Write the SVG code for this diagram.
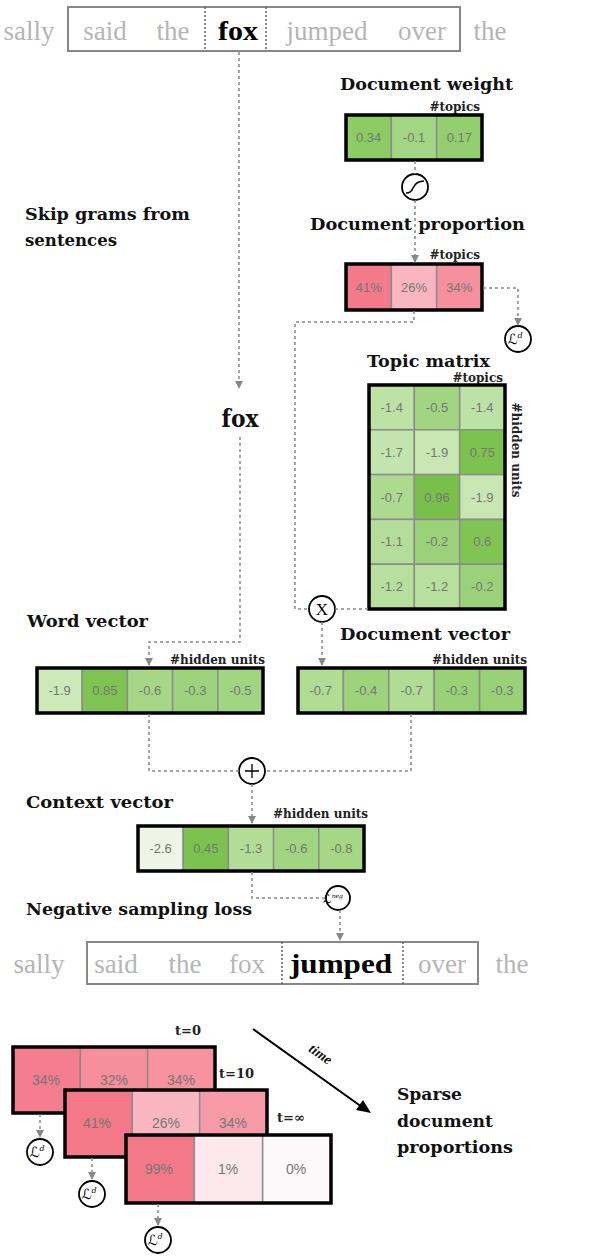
<svg xmlns="http://www.w3.org/2000/svg" width="598" height="1256" viewBox="0 0 598 1256">
<style>
.t{font-family:"DejaVu Serif",serif;font-weight:bold;font-size:17px;fill:#111}
.w{font-family:"Liberation Serif",serif;font-size:27px;fill:#b5b5b5;text-anchor:middle}
.wb{font-weight:bold;fill:#000}
.n{font-family:"Liberation Sans",Arial,sans-serif;font-size:13px;fill:#767676;text-anchor:middle}
.nb{font-size:14px}
.s{font-family:"DejaVu Serif",serif;font-weight:bold;font-size:12px;fill:#222;text-anchor:end}
.tl{font-family:"DejaVu Serif",serif;font-weight:bold;font-size:13px;fill:#222;text-anchor:start}
.box{fill:none;stroke:#000;stroke-width:3.5}
.cell{stroke:#8c8c8c;stroke-width:1.5}
.c{fill:none;stroke:#888;stroke-width:1.5;stroke-dasharray:3 3}
.op{fill:#fff;stroke:#000;stroke-width:1.8}
.L{font-family:"DejaVu Serif","DejaVu Sans",serif;font-style:italic;font-size:14px;fill:#000;text-anchor:middle}
.sup{font-family:"DejaVu Serif",serif;font-style:italic;font-size:8px;fill:#000}
.sent{fill:none;stroke:#888;stroke-width:2}
.hl{stroke:#666;stroke-width:1.5;stroke-dasharray:2 2}
</style>
<defs>
<marker id="ah" markerWidth="8" markerHeight="8" refX="7" refY="4" orient="auto" markerUnits="userSpaceOnUse">
<path d="M0,0 L8,4 L0,8 Z" fill="#888"/>
</marker>
</defs>

<g id="sentence-top">
<rect class="sent" x="68" y="7" width="392" height="44"/>
<line class="hl" x1="205" y1="7" x2="205" y2="51"/>
<line class="hl" x1="266" y1="7" x2="266" y2="51"/>
<text class="w" x="29" y="40">sally</text>
<text class="w" x="105" y="40">said</text>
<text class="w" x="173" y="40">the</text>
<text class="w wb" x="238" y="40" textLength="40" lengthAdjust="spacingAndGlyphs">fox</text>
<text class="w" x="327" y="40">jumped</text>
<text class="w" x="422" y="40">over</text>
<text class="w" x="490" y="40">the</text>
</g>

<g id="label-skipgrams">
<text class="t" x="25" y="220" textLength="165" lengthAdjust="spacingAndGlyphs">Skip grams from</text>
<text class="t" x="25" y="246" textLength="92" lengthAdjust="spacingAndGlyphs">sentences</text>
</g>

<g id="fox-word">
<text class="t" x="240" y="427" style="font-size:25px;text-anchor:middle" textLength="37" lengthAdjust="spacingAndGlyphs">fox</text>
</g>

<g id="doc-weight">
<text class="t" x="340" y="90" textLength="173" lengthAdjust="spacingAndGlyphs">Document weight</text>
<text class="s" x="480" y="111">#topics</text>
<rect class="cell" x="346" y="115" width="45.33" height="45" fill="#8ccc64"/>
<rect class="cell" x="391.33" y="115" width="45.33" height="45" fill="#a3d682"/>
<rect class="cell" x="436.67" y="115" width="45.33" height="45" fill="#93cf6e"/>
<rect class="box" x="346" y="115" width="136" height="45"/>
<text class="n" x="368.7" y="142">0.34</text>
<text class="n" x="414" y="142">-0.1</text>
<text class="n" x="459.3" y="142">0.17</text>
</g>

<g id="sigmoid">
<circle class="op" cx="415" cy="187" r="13"/>
<path d="M406,193 Q411,193 413,188 Q416,181 424,181" fill="none" stroke="#000" stroke-width="1.6"/>
</g>

<g id="doc-proportion">
<text class="t" x="310" y="230" textLength="215" lengthAdjust="spacingAndGlyphs">Document proportion</text>
<text class="s" x="480" y="259">#topics</text>
<rect class="cell" x="346" y="264" width="45.33" height="46" fill="#f37a8b"/>
<rect class="cell" x="391.33" y="264" width="45.33" height="46" fill="#f9b5c0"/>
<rect class="cell" x="436.67" y="264" width="45.33" height="46" fill="#f6909d"/>
<rect class="box" x="346" y="264" width="136" height="46"/>
<text class="n" x="368.7" y="292">41%</text>
<text class="n" x="414" y="292">26%</text>
<text class="n" x="459.3" y="292">34%</text>
</g>

<g id="loss-doc">
<circle class="op" cx="518" cy="339" r="13"/>
<text class="L" x="515" y="344">ℒ<tspan class="sup" dy="-6">d</tspan></text>
</g>

<g id="topic-matrix">
<text class="t" x="367" y="367" textLength="123" lengthAdjust="spacingAndGlyphs">Topic matrix</text>
<text class="s" x="503" y="382">#topics</text>
<text class="s" x="0" y="0" style="text-anchor:middle" transform="translate(512,450) rotate(90)">#hidden units</text>
<rect class="cell" x="369" y="385" width="45.33" height="44.8" fill="#bde2a5"/>
<rect class="cell" x="414.33" y="385" width="45.33" height="44.8" fill="#a2d582"/>
<rect class="cell" x="459.67" y="385" width="45.33" height="44.8" fill="#bde2a5"/>
<rect class="cell" x="369" y="429.8" width="45.33" height="44.8" fill="#c3e4ad"/>
<rect class="cell" x="414.33" y="429.8" width="45.33" height="44.8" fill="#c8e7b3"/>
<rect class="cell" x="459.67" y="429.8" width="45.33" height="44.8" fill="#7cc24f"/>
<rect class="cell" x="369" y="474.6" width="45.33" height="44.8" fill="#acda8f"/>
<rect class="cell" x="414.33" y="474.6" width="45.33" height="44.8" fill="#78c04a"/>
<rect class="cell" x="459.67" y="474.6" width="45.33" height="44.8" fill="#c8e7b3"/>
<rect class="cell" x="369" y="519.4" width="45.33" height="44.8" fill="#b4dd99"/>
<rect class="cell" x="414.33" y="519.4" width="45.33" height="44.8" fill="#9bd279"/>
<rect class="cell" x="459.67" y="519.4" width="45.33" height="44.8" fill="#80c454"/>
<rect class="cell" x="369" y="564.2" width="45.33" height="44.8" fill="#b7df9d"/>
<rect class="cell" x="414.33" y="564.2" width="45.33" height="44.8" fill="#b7df9d"/>
<rect class="cell" x="459.67" y="564.2" width="45.33" height="44.8" fill="#9bd279"/>
<rect class="box" x="369" y="385" width="136" height="224"/>
<text class="n" x="391.7" y="412">-1.4</text><text class="n" x="437" y="412">-0.5</text><text class="n" x="482.3" y="412">-1.4</text>
<text class="n" x="391.7" y="457">-1.7</text><text class="n" x="437" y="457">-1.9</text><text class="n" x="482.3" y="457">0.75</text>
<text class="n" x="391.7" y="502">-0.7</text><text class="n" x="437" y="502">0.96</text><text class="n" x="482.3" y="502">-1.9</text>
<text class="n" x="391.7" y="546">-1.1</text><text class="n" x="437" y="546">-0.2</text><text class="n" x="482.3" y="546">0.6</text>
<text class="n" x="391.7" y="591">-1.2</text><text class="n" x="437" y="591">-1.2</text><text class="n" x="482.3" y="591">-0.2</text>
</g>

<g id="multiply">
<circle class="op" cx="322" cy="609" r="13"/>
<text x="322" y="615" font-family="Liberation Serif,serif" font-size="17" text-anchor="middle" fill="#000">X</text>
</g>

<g id="word-vector">
<text class="t" x="27" y="627" textLength="121" lengthAdjust="spacingAndGlyphs">Word vector</text>
<text class="s" x="265" y="664">#hidden units</text>
<rect class="cell" x="37" y="668" width="45.2" height="45" fill="#cde8b9"/>
<rect class="cell" x="82.2" y="668" width="45.2" height="45" fill="#7fc452"/>
<rect class="cell" x="127.4" y="668" width="45.2" height="45" fill="#a6d786"/>
<rect class="cell" x="172.6" y="668" width="45.2" height="45" fill="#9dd37c"/>
<rect class="cell" x="217.8" y="668" width="45.2" height="45" fill="#a2d582"/>
<rect class="box" x="37" y="668" width="226" height="45"/>
<text class="n" x="59.6" y="695">-1.9</text><text class="n" x="104.8" y="695">0.85</text><text class="n" x="150" y="695">-0.6</text><text class="n" x="195.2" y="695">-0.3</text><text class="n" x="240.4" y="695">-0.5</text>
</g>

<g id="doc-vector">
<text class="t" x="340" y="640" textLength="170" lengthAdjust="spacingAndGlyphs">Document vector</text>
<text class="s" x="527" y="664">#hidden units</text>
<rect class="cell" x="298" y="668" width="45.4" height="45" fill="#b0dc93"/>
<rect class="cell" x="343.4" y="668" width="45.4" height="45" fill="#9dd37b"/>
<rect class="cell" x="388.8" y="668" width="45.4" height="45" fill="#b0dc93"/>
<rect class="cell" x="434.2" y="668" width="45.4" height="45" fill="#99d177"/>
<rect class="cell" x="479.6" y="668" width="45.4" height="45" fill="#99d177"/>
<rect class="box" x="298" y="668" width="227" height="45"/>
<text class="n" x="320.7" y="695">-0.7</text><text class="n" x="366.1" y="695">-0.4</text><text class="n" x="411.5" y="695">-0.7</text><text class="n" x="456.9" y="695">-0.3</text><text class="n" x="502.3" y="695">-0.3</text>
</g>

<g id="plus">
<circle class="op" cx="252" cy="771" r="13"/>
<path d="M245,771 H259 M252,764 V778" stroke="#000" stroke-width="1.3"/>
</g>

<g id="context-vector">
<text class="t" x="26" y="808" textLength="147" lengthAdjust="spacingAndGlyphs">Context vector</text>
<text class="s" x="368" y="818">#hidden units</text>
<rect class="cell" x="138" y="826" width="45.2" height="45" fill="#eef5e6"/>
<rect class="cell" x="183.2" y="826" width="45.2" height="45" fill="#7bc34e"/>
<rect class="cell" x="228.4" y="826" width="45.2" height="45" fill="#b3dd97"/>
<rect class="cell" x="273.6" y="826" width="45.2" height="45" fill="#a1d581"/>
<rect class="cell" x="318.8" y="826" width="45.2" height="45" fill="#a5d785"/>
<rect class="box" x="138" y="826" width="226" height="45"/>
<text class="n" x="160.6" y="853">-2.6</text><text class="n" x="205.8" y="853">0.45</text><text class="n" x="251" y="853">-1.3</text><text class="n" x="296.2" y="853">-0.6</text><text class="n" x="341.4" y="853">-0.8</text>
</g>

<g id="loss-neg">
<circle class="op" cx="338" cy="898" r="12"/>
<text class="L" x="333" y="903" style="font-size:12px">ℒ<tspan class="sup" style="font-size:6px" dy="-5">neg</tspan></text>
</g>

<g id="label-negative">
<text class="t" x="26" y="915" textLength="226" lengthAdjust="spacingAndGlyphs">Negative sampling loss</text>
</g>

<g id="sentence-bottom">
<rect class="sent" x="87" y="942" width="391" height="42"/>
<line class="hl" x1="282" y1="942" x2="282" y2="984"/>
<line class="hl" x1="403" y1="942" x2="403" y2="984"/>
<text class="w" x="39" y="973">sally</text>
<text class="w" x="116" y="973">said</text>
<text class="w" x="185" y="973">the</text>
<text class="w" x="247" y="973">fox</text>
<text class="w wb" x="341" y="973" textLength="102" lengthAdjust="spacingAndGlyphs">jumped</text>
<text class="w" x="442" y="973">over</text>
<text class="w" x="512" y="973">the</text>
</g>

<g id="proportions-t0">
<text class="tl" x="175" y="1035">t=0</text>
<rect class="cell" x="13" y="1047" width="67.33" height="66" fill="#f47e8e"/>
<rect class="cell" x="80.33" y="1047" width="67.33" height="66" fill="#f78e9b"/>
<rect class="cell" x="147.67" y="1047" width="67.33" height="66" fill="#f7929e"/>
<rect class="box" x="13" y="1047" width="202" height="66"/>
<text class="n nb" x="46" y="1085">34%</text><text class="n nb" x="114" y="1085">32%</text><text class="n nb" x="181" y="1085">34%</text>
</g>

<g id="proportions-t10">
<text class="tl" x="219" y="1078">t=10</text>
<rect class="cell" x="65" y="1090" width="67.33" height="67" fill="#f37888"/>
<rect class="cell" x="132.33" y="1090" width="67.33" height="67" fill="#f9b6c1"/>
<rect class="cell" x="199.67" y="1090" width="67.33" height="67" fill="#f79aa7"/>
<rect class="box" x="65" y="1090" width="202" height="67"/>
<text class="n nb" x="97" y="1128">41%</text><text class="n nb" x="166" y="1128">26%</text><text class="n nb" x="233" y="1128">34%</text>
</g>

<g id="proportions-tinf">
<text class="tl" x="277" y="1122">t=∞</text>
<rect class="cell" x="126" y="1135" width="68.33" height="68" fill="#f37888"/>
<rect class="cell" x="194.33" y="1135" width="68.33" height="68" fill="#fde9ed"/>
<rect class="cell" x="262.67" y="1135" width="68.33" height="68" fill="#fdf8f9"/>
<rect class="box" x="126" y="1135" width="205" height="68"/>
<text class="n nb" x="159" y="1174">99%</text><text class="n nb" x="228" y="1174">1%</text><text class="n nb" x="296" y="1174">0%</text>
</g>

<g id="loss-d1"><circle class="op" cx="40" cy="1152" r="13"/><text class="L" x="37" y="1157">ℒ<tspan class="sup" dy="-6">d</tspan></text></g>
<g id="loss-d2"><circle class="op" cx="92" cy="1194" r="13"/><text class="L" x="89" y="1199">ℒ<tspan class="sup" dy="-6">d</tspan></text></g>
<g id="loss-d3"><circle class="op" cx="158" cy="1240" r="13"/><text class="L" x="155" y="1245">ℒ<tspan class="sup" dy="-6">d</tspan></text></g>

<g id="time-arrow">
<line x1="253" y1="1029" x2="362" y2="1107" stroke="#000" stroke-width="2"/>
<polygon points="371,1113 356,1110 363,1100" fill="#000"/>
<text x="0" y="0" font-family="Liberation Serif,serif" font-style="italic" font-weight="bold" font-size="14" fill="#111" text-anchor="middle" transform="translate(318,1058) rotate(35)">time</text>
</g>

<g id="label-sparse">
<text class="t" x="397" y="1100" textLength="65" lengthAdjust="spacingAndGlyphs">Sparse</text>
<text class="t" x="397" y="1127" textLength="96" lengthAdjust="spacingAndGlyphs">document</text>
<text class="t" x="397" y="1153" textLength="116" lengthAdjust="spacingAndGlyphs">proportions</text>
</g>

<g id="connectors">
<path class="c" d="M239,52 V388" marker-end="url(#ah)"/>
<path class="c" d="M240,437 V642 H149 V665" marker-end="url(#ah)"/>
<path class="c" d="M415,161 V174"/>
<path class="c" d="M415,200 V262" marker-end="url(#ah)"/>
<path class="c" d="M483,288 H518 V325" marker-end="url(#ah)"/>
<path class="c" d="M414,311 V322 H295 V609 H309"/>
<path class="c" d="M368,609 H335"/>
<path class="c" d="M322,622 V665" marker-end="url(#ah)"/>
<path class="c" d="M149,714 V771 H239"/>
<path class="c" d="M411,714 V771 H265"/>
<path class="c" d="M252,784 V823" marker-end="url(#ah)"/>
<path class="c" d="M252,872 V898 H326"/>
<path class="c" d="M340,910 V940" marker-end="url(#ah)"/>
<path class="c" d="M40,1114 V1137" marker-end="url(#ah)"/>
<path class="c" d="M92,1158 V1179" marker-end="url(#ah)"/>
<path class="c" d="M158,1204 V1225" marker-end="url(#ah)"/>
</g>
</svg>
